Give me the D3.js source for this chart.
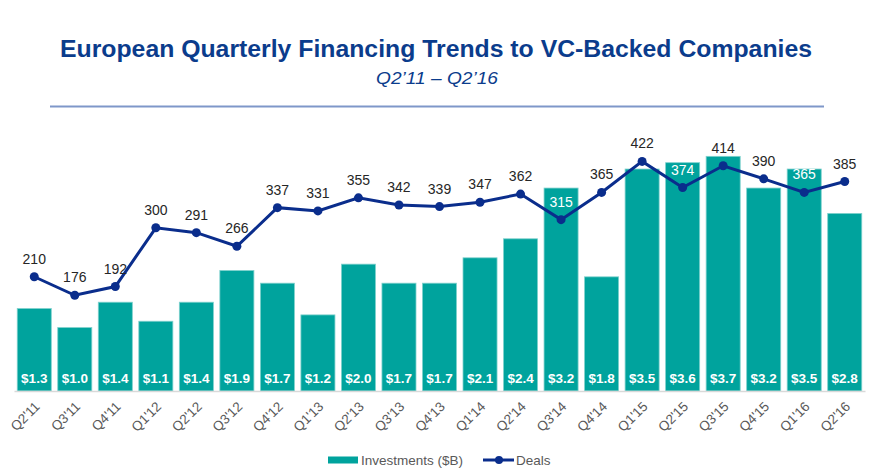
<!DOCTYPE html>
<html>
<head>
<meta charset="utf-8">
<script src="https://cdn.jsdelivr.net/npm/d3@7"></script>
<style>
  body { margin: 0; background: #fff; }
  svg { display: block; font-family: "Liberation Sans", Arial, sans-serif; }
</style>
</head>
<body>
<svg id="chart" width="870" height="473"></svg>
<script>
// data
const quarters = ["Q2'11","Q3'11","Q4'11","Q1'12","Q2'12","Q3'12","Q4'12","Q1'13","Q2'13","Q3'13","Q4'13",
                  "Q1'14","Q2'14","Q3'14","Q4'14","Q1'15","Q2'15","Q3'15","Q4'15","Q1'16","Q2'16"];
const investments = [1.3,1.0,1.4,1.1,1.4,1.9,1.7,1.2,2.0,1.7,1.7,2.1,2.4,3.2,1.8,3.5,3.6,3.7,3.2,3.5,2.8];
const deals = [210,176,192,300,291,266,337,331,355,342,339,347,362,315,365,422,374,414,390,365,385];

const rows = quarters.map((q, i) => ({ q, inv: investments[i], deals: deals[i] }));

const teal = "#00a39d";
const navy = "#0a2d8c";
const gray = "#595959";

const svg = d3.select("#chart");
const baseY = 391, topY = 150;

const x = d3.scaleBand()
  .domain(quarters)
  .range([14, 865])
  .paddingInner(0.16)
  .paddingOuter(0.08);
const yBar = d3.scaleLinear().domain([0, 3.8]).range([baseY, topY]);
const yLine = d3.scaleLinear().domain([0, 443]).range([baseY, topY]);

// title block
svg.append("text")
  .attr("x", 436).attr("y", 57)
  .attr("text-anchor", "middle")
  .attr("font-size", 23.5).attr("font-weight", "bold")
  .attr("fill", "#0b3c8c")
  .attr("textLength", 752).attr("lengthAdjust", "spacingAndGlyphs")
  .text("European Quarterly Financing Trends to VC-Backed Companies");

svg.append("text")
  .attr("x", 437).attr("y", 84)
  .attr("text-anchor", "middle")
  .attr("font-size", 17).attr("font-style", "italic")
  .attr("fill", "#0b3c8c")
  .attr("textLength", 122).attr("lengthAdjust", "spacingAndGlyphs")
  .text("Q2\u201911 \u2013 Q2\u201916");

svg.append("line")
  .attr("x1", 50).attr("x2", 824)
  .attr("y1", 106.5).attr("y2", 106.5)
  .attr("stroke", "#7f97c9").attr("stroke-width", 2);

// bars
svg.append("g")
  .selectAll("rect")
  .data(rows)
  .join("rect")
  .attr("x", d => x(d.q))
  .attr("y", d => yBar(d.inv))
  .attr("width", x.bandwidth())
  .attr("height", d => baseY - yBar(d.inv))
  .attr("fill", teal)
  .attr("stroke", "#7fd1cd")
  .attr("stroke-width", 0.8);

svg.append("g")
  .selectAll("text")
  .data(rows)
  .join("text")
  .attr("x", d => x(d.q) + x.bandwidth() / 2)
  .attr("y", baseY - 8)
  .attr("text-anchor", "middle")
  .attr("font-size", 13.5).attr("font-weight", "bold")
  .attr("fill", "#fff")
  .text(d => "$" + d3.format(".1f")(d.inv));

// x axis
const xAxis = svg.append("g")
  .attr("transform", `translate(0,${baseY})`)
  .call(d3.axisBottom(x).tickSize(0).tickSizeOuter(0));
xAxis.select(".domain").attr("stroke", "#d9d9d9").attr("stroke-width", 1.5);
xAxis.selectAll("text")
  .attr("font-family", "Liberation Sans, Arial, sans-serif")
  .attr("font-size", 13.5)
  .attr("fill", gray)
  .attr("text-anchor", "end")
  .attr("x", 0).attr("y", 0).attr("dy", "0.35em")
  .attr("transform", "translate(3,13) rotate(-45)");

// deals line
const cx = d => x(d.q) + x.bandwidth() / 2;
svg.append("path")
  .datum(rows)
  .attr("fill", "none")
  .attr("stroke", navy)
  .attr("stroke-width", 3)
  .attr("d", d3.line().x(cx).y(d => yLine(d.deals)));

svg.append("g")
  .selectAll("circle")
  .data(rows)
  .join("circle")
  .attr("cx", cx)
  .attr("cy", d => yLine(d.deals))
  .attr("r", 4.5)
  .attr("fill", navy);

svg.append("g")
  .selectAll("text")
  .data(rows)
  .join("text")
  .attr("x", cx)
  .attr("y", d => yLine(d.deals) - 13)
  .attr("text-anchor", "middle")
  .attr("font-size", 14)
  .attr("fill", d => {
    // label sits inside the bar -> white
    const mid = yLine(d.deals) - 18;
    return yBar(d.inv) < mid - 4 ? "#fff" : "#262626";
  })
  .text(d => d.deals);

// legend
const lg = svg.append("g");
lg.append("rect")
  .attr("x", 328).attr("y", 456.5)
  .attr("width", 30).attr("height", 7)
  .attr("fill", teal);
lg.append("text")
  .attr("x", 361).attr("y", 465)
  .attr("font-size", 13.5).attr("fill", gray)
  .text("Investments ($B)");
lg.append("line")
  .attr("x1", 483).attr("x2", 514)
  .attr("y1", 460).attr("y2", 460)
  .attr("stroke", navy).attr("stroke-width", 3);
lg.append("circle")
  .attr("cx", 499).attr("cy", 460).attr("r", 4)
  .attr("fill", navy);
lg.append("text")
  .attr("x", 516).attr("y", 465)
  .attr("font-size", 13.5).attr("fill", gray)
  .text("Deals");
</script>
</body>
</html>
